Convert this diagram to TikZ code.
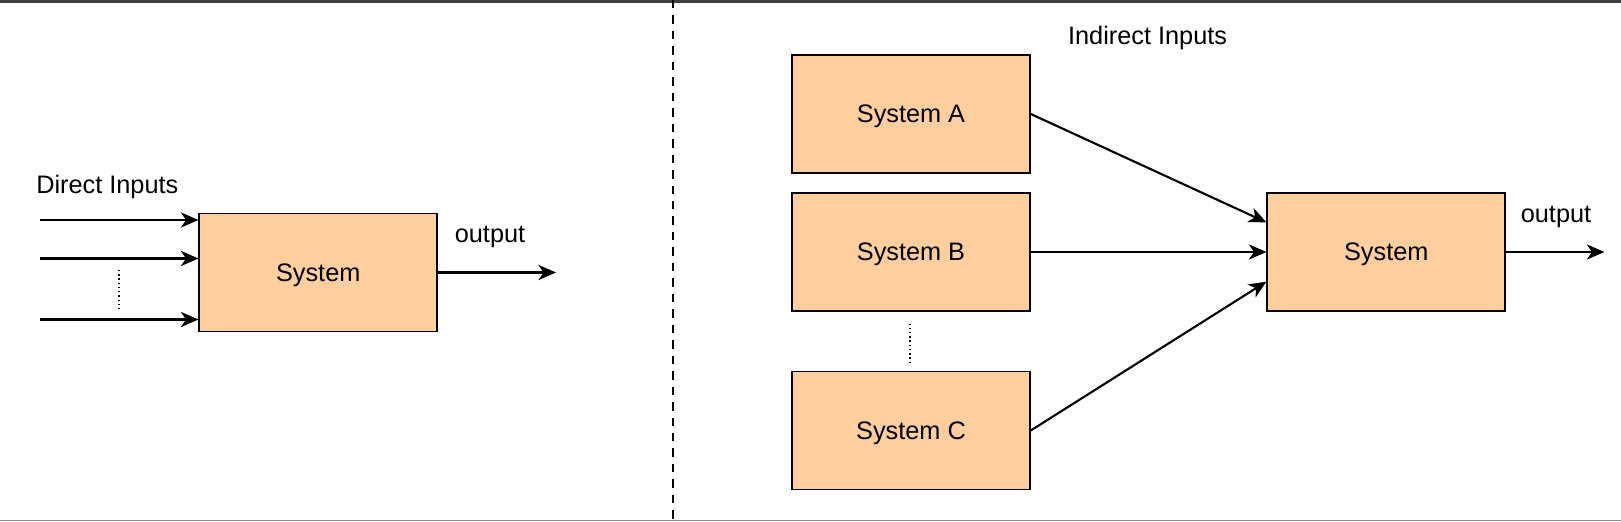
\documentclass[tikz,border=0pt]{standalone}
\usepackage{fontspec}
\setmainfont{Liberation Sans}
\usepackage{tikz}
\usetikzlibrary{arrows.meta}
\definecolor{peach}{HTML}{FFCE9F}
\tikzset{
  sysbox/.style={draw,fill=peach,line width=1.4pt,minimum width=5.94cm,minimum height=2.95cm,inner sep=0pt,text depth=0pt},
  flow/.style={line width=1.5pt,-{Stealth[length=4.4mm,width=3.8mm,inset=1.3mm]}},
  lbl/.style={inner sep=0pt}
}

\begin{document}
\begin{tikzpicture}[font=\fontsize{18}{22}\selectfont]
\useasboundingbox (0,0) rectangle (40.525,13.05);
% frame of the screenshot
\draw[line width=2.2pt,black!75] (0,13.02) -- (40.525,13.02);
\draw[line width=1pt,black!45] (0,0.04) -- (40.525,0.04);
\draw[line width=1pt,dashed,dash pattern=on 6pt off 5pt] (16.825,13.05) -- (16.825,0);

% direct inputs
\node[sysbox] (sys) at (7.956,6.2375) {System};
\node[lbl,anchor=west] (direct) at (0.9,8.37) {Direct Inputs};
\coordinate (in1) at (1.0,7.55);
\coordinate (in2) at (1.0,6.5875);
\coordinate (in3) at (1.0,5.0625);
\foreach \i in {1,2,3}
  \draw[flow] (in\i) -- (in\i -| sys.west);
\coordinate (dot1) at (2.975,6.3);
\coordinate (dot2) at (2.975,5.35);
\draw[dotted,line width=1pt] (dot1) -- (dot2);
\coordinate (out1) at (13.9,6.2375);
\draw[flow] (sys) -- (out1);
\node[lbl] (output1) at (12.25,7.12) {output};

% indirect inputs
\node[lbl] (indirect) at (28.69,12.1) {Indirect Inputs};
\node[sysbox] (sysA) at (22.775,10.2) {System A};
\node[sysbox] (sysB) at (22.775,6.75) {System B};
\node[sysbox] (sysC) at (22.775,2.2875) {System C};
\node[sysbox] (sys2) at (34.656,6.75) {System};
\coordinate (dot3) at (22.75,4.96);
\coordinate (dot4) at (22.75,4.0);
\draw[dotted,line width=1pt] (dot3) -- (dot4);
\draw[flow] (sysA.east) -- ([yshift=0.74cm]sys2.west);
\draw[flow] (sysB.east) -- (sys2.west);
\draw[flow] (sysC.east) -- ([yshift=-0.74cm]sys2.west);
\coordinate (out2) at (40.11,6.75);
\draw[flow] (sys2) -- (out2);
\node[lbl] (output2) at (38.9,7.62) {output};
\end{tikzpicture}
\end{document}
